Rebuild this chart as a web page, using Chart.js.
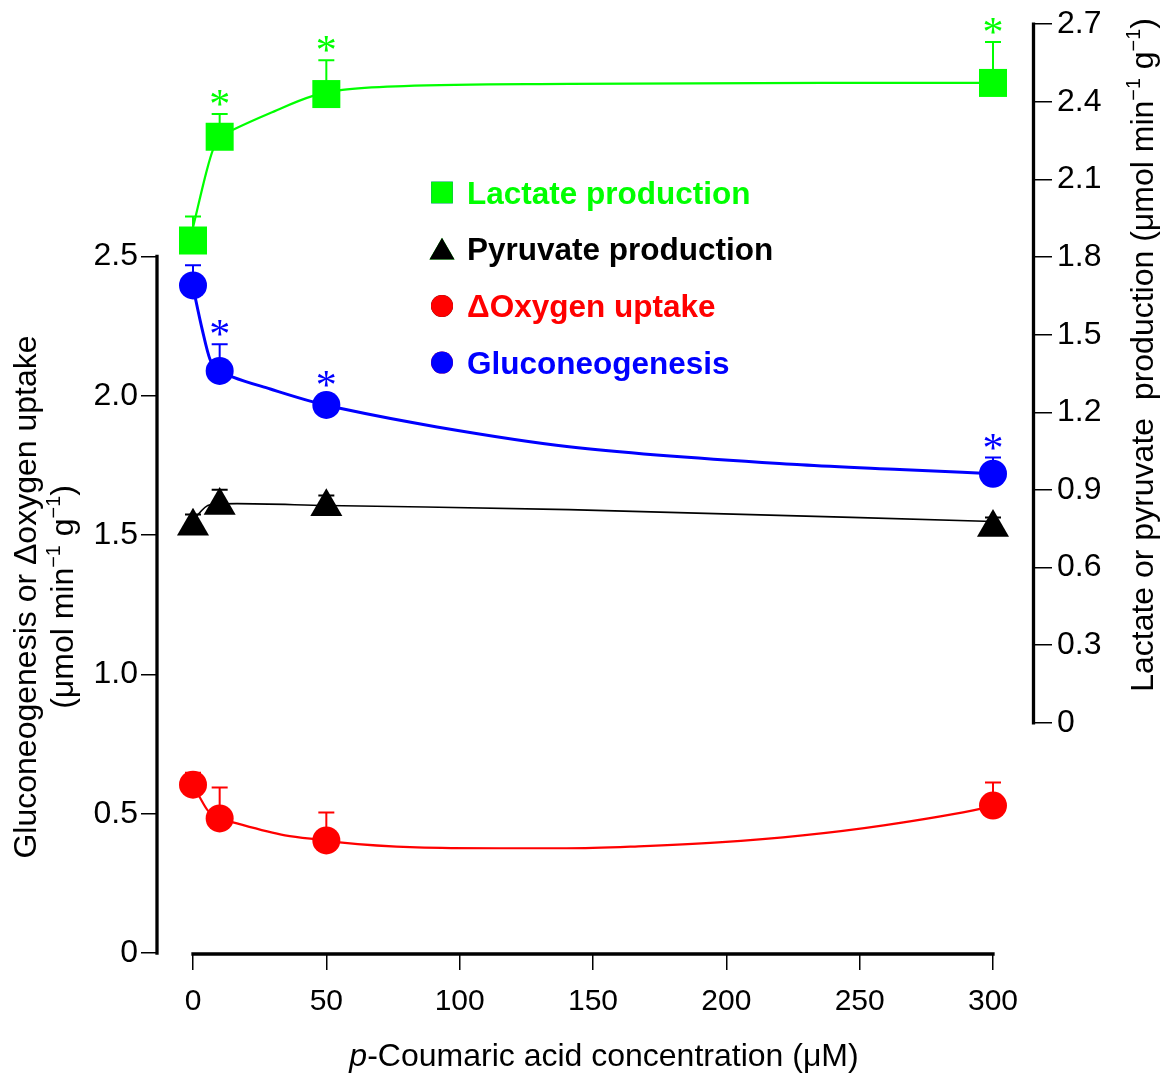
<!DOCTYPE html>
<html>
<head>
<meta charset="utf-8">
<script src="https://cdn.jsdelivr.net/npm/chart.js@4.4.1/dist/chart.umd.min.js"></script>
<style>
  html, body { margin: 0; padding: 0; background: #fff; }
  canvas { display: block; }
</style>
</head>
<body>
<canvas id="myChart" width="1168" height="1073"></canvas>
<script>
// p-Coumaric acid concentration (uM)
const concentrations = [0, 10, 50, 300];

// means and SE
const lactate     = [1.864, 2.265, 2.430, 2.473];
const lactateSE   = [0.093, 0.088, 0.131, 0.158];
const pyruvate    = [0.760, 0.840, 0.835, 0.755];
const pyruvateSE  = [0.045, 0.061, 0.043, 0.038];
const oxygen      = [0.604, 0.483, 0.404, 0.529];
const oxygenSE    = [0.043, 0.111, 0.100, 0.083];
const gluco       = [2.396, 2.089, 1.967, 1.720];
const glucoSE     = [0.072, 0.096, 0.028, 0.058];

// significance marks (*)
const lactateSig  = [false, true, true, true];
const glucoSig    = [false, true, true, true];

// fitted curves
const lactateFitX  = [0, 5.25, 7.5, 10, 15, 29, 45, 56, 79, 141, 236, 300];
const lactateFitY  = [1.914, 2.138, 2.215, 2.265, 2.292, 2.357, 2.423, 2.446, 2.461, 2.469, 2.473, 2.473];
const glucoFitX    = [0, 3.4, 6.4, 10, 15, 29, 45, 56, 91.5, 141, 228, 265, 300];
const glucoFitY    = [2.39, 2.24, 2.13, 2.089, 2.067, 2.024, 1.978, 1.953, 1.888, 1.817, 1.752, 1.735, 1.72];
const pyruvateFitX = [0, 1.9, 6.4, 16.5, 50, 141, 300];
const pyruvateFitY = [0.774, 0.805, 0.843, 0.847, 0.840, 0.824, 0.778];
const oxygenFitX   = [0, 2.6, 5.6, 10, 15, 34.5, 50, 55, 84, 115, 140, 167, 197, 228.6, 259, 296, 300];
const oxygenFitY   = [0.604, 0.558, 0.511, 0.483, 0.469, 0.422, 0.404, 0.397, 0.379, 0.376, 0.376, 0.383, 0.397, 0.422, 0.458, 0.519, 0.529];

// axes
const xTicks = [0, 50, 100, 150, 200, 250, 300];
const xTickLabels = ['0', '50', '100', '150', '200', '250', '300'];
const leftTicks = [0, 0.5, 1, 1.5, 2, 2.5];
const leftTickLabels = ['0', '0.5', '1.0', '1.5', '2.0', '2.5'];
const rightTicks = [0, 0.3, 0.6, 0.9, 1.2, 1.5, 1.8, 2.1, 2.4, 2.7];
const rightTickLabels = ['0', '0.3', '0.6', '0.9', '1.2', '1.5', '1.8', '2.1', '2.4', '2.7'];

const FONT = '"Liberation Sans", Arial, sans-serif';
const GREEN = '#00ff00';
const RED = '#ff0000';
const BLUE = '#0000ff';
const BLACK = '#000000';

function toPoints(xs, ys) {
    return xs.map((x, i) => ({x: x, y: ys[i]}));
}

const series = [
    {label: 'Lactate production', values: lactate, se: lactateSE, sig: lactateSig, axis: 'yR', color: GREEN, style: 'rect', radius: 19.8, legendRadius: 15.3},
    {label: 'Pyruvate production', values: pyruvate, se: pyruvateSE, sig: null, axis: 'yR', color: BLACK, style: 'triangle', radius: 18.5, legendRadius: 14.5},
    {label: '\u0394Oxygen uptake', values: oxygen, se: oxygenSE, sig: null, axis: 'yL', color: RED, style: 'circle', radius: 14, legendRadius: 11},
    {label: 'Gluconeogenesis', values: gluco, se: glucoSE, sig: glucoSig, axis: 'yL', color: BLUE, style: 'circle', radius: 14, legendRadius: 11}
];

const fits = [
    {xs: lactateFitX, ys: lactateFitY, axis: 'yR', color: GREEN, width: 2.2},
    {xs: pyruvateFitX, ys: pyruvateFitY, axis: 'yR', color: BLACK, width: 1.6},
    {xs: oxygenFitX, ys: oxygenFitY, axis: 'yL', color: RED, width: 2.2},
    {xs: glucoFitX, ys: glucoFitY, axis: 'yL', color: BLUE, width: 3}
];

const datasets = [];
series.forEach(s => {
    datasets.push({
        label: s.label,
        data: toPoints(concentrations, s.values),
        yAxisID: s.axis,
        showLine: false,
        pointStyle: s.style,
        pointRadius: s.radius,
        pointBorderWidth: 0,
        backgroundColor: s.color,
        borderColor: s.color,
        clip: false,
        order: 0
    });
});
fits.forEach(f => {
    datasets.push({
        label: 'fit',
        data: toPoints(f.xs, f.ys),
        yAxisID: f.axis,
        showLine: true,
        pointRadius: 0,
        borderColor: f.color,
        borderWidth: f.width,
        cubicInterpolationMode: 'monotone',
        fill: false,
        clip: false,
        order: 1
    });
});

// rich text: segments {t, it, sup}
function drawRich(ctx, segs, x, y, size, color) {
    const fontFor = s => (s.it ? 'italic ' : '') + (s.sup ? size * 0.62 : size) + 'px ' + FONT;
    let total = 0;
    segs.forEach(s => { ctx.font = fontFor(s); total += ctx.measureText(s.t).width; });
    let cx = x - total / 2;
    ctx.fillStyle = color;
    ctx.textAlign = 'left';
    ctx.textBaseline = 'alphabetic';
    segs.forEach(s => {
        ctx.font = fontFor(s);
        ctx.fillText(s.t, cx, s.sup ? y - size * 0.4 : y);
        cx += ctx.measureText(s.t).width;
    });
}

const unitSegs = [{t: '(\u03bcmol min'}, {t: '\u22121', sup: true}, {t: ' g'}, {t: '\u22121', sup: true}, {t: ')'}];

const decorations = {
    id: 'decorations',
    beforeDatasetsDraw(chart) {
        // upward error bars
        const ctx = chart.ctx;
        const xs = chart.scales.x;
        series.forEach(s => {
            const ys = chart.scales[s.axis];
            ctx.save();
            ctx.strokeStyle = s.color;
            ctx.lineWidth = 2;
            s.values.forEach((v, i) => {
                const px = xs.getPixelForValue(concentrations[i]);
                const top = ys.getPixelForValue(v + s.se[i]);
                ctx.beginPath();
                ctx.moveTo(px, ys.getPixelForValue(v));
                ctx.lineTo(px, top);
                ctx.moveTo(px - 8, top);
                ctx.lineTo(px + 8, top);
                ctx.stroke();
            });
            ctx.restore();
        });
    },
    afterDraw(chart) {
        const ctx = chart.ctx;
        const xs = chart.scales.x;
        const yL = chart.scales.yL;
        const yR = chart.scales.yR;
        ctx.save();

        // axis lines, only over their labelled range
        ctx.strokeStyle = BLACK;
        ctx.lineWidth = 3.3;
        ctx.lineCap = 'square';
        ctx.beginPath();
        ctx.moveTo(yL.right - 1, yL.getPixelForValue(0));
        ctx.lineTo(yL.right - 1, yL.getPixelForValue(2.5));
        ctx.moveTo(yR.left + 0.5, yR.getPixelForValue(0));
        ctx.lineTo(yR.left + 0.5, yR.getPixelForValue(2.7));
        ctx.moveTo(xs.getPixelForValue(0), xs.top + 1);
        ctx.lineTo(xs.getPixelForValue(300), xs.top + 1);
        ctx.stroke();

        // asterisks
        ctx.font = '42px "Liberation Serif", "Times New Roman", serif';
        ctx.textAlign = 'center';
        ctx.textBaseline = 'alphabetic';
        const m = ctx.measureText('*');
        series.forEach(s => {
            if (!s.sig) return;
            const ys = chart.scales[s.axis];
            ctx.fillStyle = s.color;
            s.values.forEach((v, i) => {
                if (!s.sig[i]) return;
                const px = xs.getPixelForValue(concentrations[i]);
                const top = Math.min(ys.getPixelForValue(v + s.se[i]), ys.getPixelForValue(v) - s.radius * 0.72);
                const cy = top - 16;
                ctx.fillText('*', px, cy + (m.actualBoundingBoxAscent - m.actualBoundingBoxDescent) / 2);
            });
        });

        // legend
        const lx = 442, ly0 = 192.5, step = 56.7;
        series.forEach((s, i) => {
            const y = ly0 + i * step;
            Chart.helpers.drawPoint(ctx, {pointStyle: s.style, radius: s.legendRadius, rotation: 0, borderWidth: 0}, lx, s.style === 'triangle' ? y + 3 : y);
            ctx.fillStyle = s.color;
            ctx.fill();
            ctx.font = 'bold 31.5px ' + FONT;
            ctx.textAlign = 'left';
            ctx.textBaseline = 'alphabetic';
            ctx.fillStyle = s.color;
            ctx.fillText(s.label, 467, y + 11);
        });

        // axis titles
        ctx.save();
        ctx.translate(36, 597);
        ctx.rotate(-Math.PI / 2);
        drawRich(ctx, [{t: 'Gluconeogenesis or \u0394oxygen uptake'}], 0, 0, 32, BLACK);
        ctx.restore();
        ctx.save();
        ctx.translate(73, 597);
        ctx.rotate(-Math.PI / 2);
        drawRich(ctx, unitSegs, 0, 0, 32, BLACK);
        ctx.restore();

        ctx.save();
        ctx.translate(1153, 355);
        ctx.rotate(-Math.PI / 2);
        drawRich(ctx, [{t: 'Lactate or pyruvate  production '}].concat(unitSegs), 0, 0, 32, BLACK);
        ctx.restore();

        drawRich(ctx, [{t: 'p', it: true}, {t: '-Coumaric acid concentration (\u03bcM)'}], 604, 1066, 32, BLACK);

        ctx.restore();
    }
};

const xTickFont = {family: FONT, size: 30};
const yTickFont = {family: FONT, size: 32};

new Chart(document.getElementById('myChart'), {
    type: 'scatter',
    data: {datasets: datasets},
    options: {
        responsive: false,
        animation: false,
        events: [],
        layout: {padding: {top: 21, left: 0, right: 0, bottom: 0}, autoPadding: false},
        plugins: {legend: {display: false}, tooltip: {enabled: false}},
        scales: {
            x: {
                type: 'linear',
                position: 'bottom',
                min: -13.125,
                max: 315,
                afterFit: s => { s.height = 120; },
                afterBuildTicks: s => { s.ticks = xTicks.map(v => ({value: v})); },
                border: {display: false},
                grid: {drawOnChartArea: false, drawTicks: true, tickLength: 17, color: BLACK, lineWidth: 1.5},
                ticks: {color: BLACK, font: xTickFont, padding: 14, maxRotation: 0, callback: (v, i) => xTickLabels[i]}
            },
            yL: {
                type: 'linear',
                position: 'left',
                min: 0,
                max: 2.5 + 233 * 2.5 / 699,
                afterFit: s => { s.width = 158; },
                afterBuildTicks: s => { s.ticks = leftTicks.map(v => ({value: v})); },
                border: {display: false},
                grid: {drawOnChartArea: false, drawTicks: true, tickLength: 17, color: BLACK, lineWidth: 1.5},
                ticks: {color: BLACK, font: yTickFont, padding: 3, callback: (v, i) => leftTickLabels[i]}
            },
            yR: {
                type: 'linear',
                position: 'right',
                min: -231 * 2.7 / 701,
                max: 2.7,
                afterFit: s => { s.width = 135; },
                afterBuildTicks: s => { s.ticks = rightTicks.map(v => ({value: v})); },
                border: {display: false},
                grid: {drawOnChartArea: false, drawTicks: true, tickLength: 19, color: BLACK, lineWidth: 1.5},
                ticks: {color: BLACK, font: yTickFont, padding: 5, callback: (v, i) => rightTickLabels[i]}
            }
        }
    },
    plugins: [decorations]
});
</script>
</body>
</html>
